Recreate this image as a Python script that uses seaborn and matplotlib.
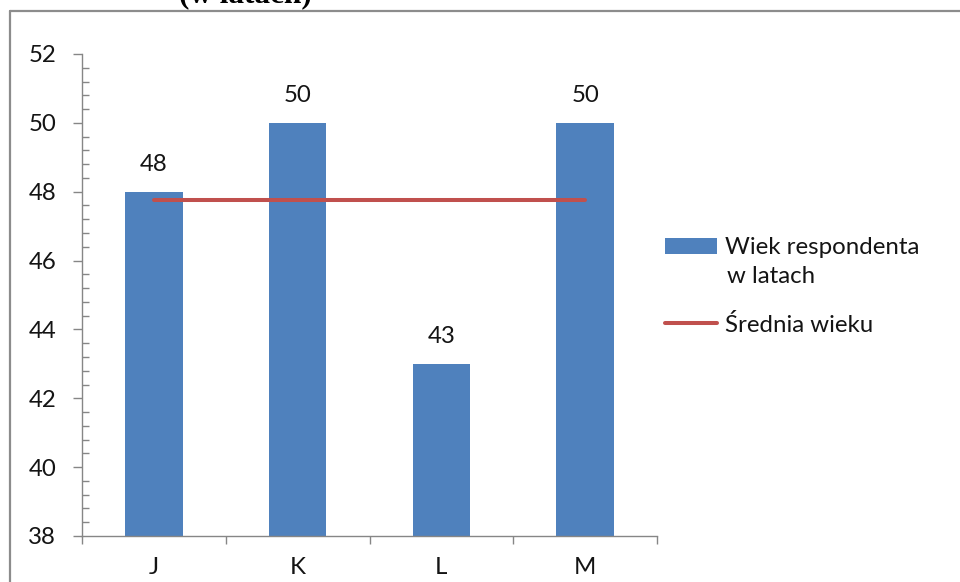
import matplotlib
matplotlib.use("Agg")
import matplotlib.pyplot as plt
from matplotlib.ticker import MultipleLocator, FixedLocator
from matplotlib.lines import Line2D
import seaborn as sns
import pandas as pd

# Respondents and their age in years
respondenci = ["J", "K", "L", "M"]
wiek = [48, 50, 43, 50]
# Mean age drawn as a flat line across the categories
srednia_wieku = [47.75, 47.75, 47.75, 47.75]

y_min, y_max, y_step = 38, 52, 2

sns.set_theme(style="white")
plt.rcParams["font.family"] = ["Lato", "DejaVu Sans"]

BLUE = "#4F81BD"
RED = "#C0504D"
AXIS = "#868686"
TEXT = "#141414"
FS = 17.3

df = pd.DataFrame({"resp": respondenci, "wiek": wiek, "srednia": srednia_wieku})
df["pos"] = range(len(df))

fig = plt.figure(figsize=(9.6, 5.82), dpi=100)
ax = fig.add_axes([82 / 960, 1 - 536 / 582, (657 - 82) / 960, (536 - 54) / 582])

sns.barplot(data=df, x="resp", y="wiek", color=BLUE, width=0.4, saturation=1,
            ax=ax, label="Wiek respondenta", edgecolor="none")
sns.lineplot(data=df, x="pos", y="srednia", color=RED, linewidth=2.9,
             ax=ax, label="Średnia wieku", solid_capstyle="round")

# value labels above each bar
for container in ax.containers:
    ax.bar_label(container, labels=[str(v) for v in wiek], padding=12,
                 fontsize=FS, color=TEXT)

ax.set_ylim(y_min, y_max)
ax.set_xlim(-0.5, len(respondenci) - 0.5)
ax.yaxis.set_major_locator(MultipleLocator(y_step))
ax.yaxis.set_minor_locator(MultipleLocator(0.4))
ax.set_xticks(range(len(respondenci)))
ax.set_xticklabels(respondenci)
ax.xaxis.set_minor_locator(FixedLocator([i - 0.5 for i in range(len(respondenci) + 1)]))
ax.set_xlabel("")
ax.set_ylabel("")

for side in ["top", "right"]:
    ax.spines[side].set_visible(False)
for side in ["left", "bottom"]:
    ax.spines[side].set_color(AXIS)
    ax.spines[side].set_linewidth(1.0)

ax.tick_params(axis="y", which="major", direction="out", length=6.5, width=1.0,
               color=AXIS, labelsize=FS, labelcolor=TEXT, pad=12, left=True)
ax.tick_params(axis="y", which="minor", direction="in", length=5, width=1.0,
               color=AXIS, left=True)
ax.tick_params(axis="x", which="major", length=0, labelsize=FS,
               labelcolor=TEXT, pad=15)
ax.tick_params(axis="x", which="minor", direction="out", length=6, width=1.0,
               color=AXIS, bottom=True)

# legend: bars first, then the mean line
handles, labels = ax.get_legend_handles_labels()
order = [labels.index("Wiek respondenta"), labels.index("Średnia wieku")]
leg = ax.legend([handles[i] for i in order], [labels[i] for i in order],
                loc="center left", bbox_to_anchor=(665 / 960, 1 - 286.5 / 582),
                bbox_transform=fig.transFigure, frameon=False, fontsize=FS,
                handlelength=2.17, handletextpad=0.33, labelspacing=2.3,
                borderaxespad=0, borderpad=0)
for t in leg.get_texts():
    t.set_color(TEXT)
# second line of the first legend label
fig.text(727 / 960, 1 - 283 / 582, "w latach", ha="left", va="baseline",
         fontsize=FS, color=TEXT)

# outer frame of the chart area
fig.add_artist(Line2D([10 / 960, 1.01], [1 - 11 / 582, 1 - 11 / 582],
                      transform=fig.transFigure, color="#8c8c8c", linewidth=1.6))
fig.add_artist(Line2D([10 / 960, 10 / 960], [-0.01, 1 - 11 / 582],
                      transform=fig.transFigure, color="#8c8c8c", linewidth=1.6))

# heading (partly above the top edge)
fig.text(245 / 960, 1 - 2 / 582, "(w latach)", ha="center", va="baseline",
         fontfamily="Liberation Serif", fontweight="bold", fontsize=22.5,
         color="#000000")

fig.savefig("out.png", dpi=100)
